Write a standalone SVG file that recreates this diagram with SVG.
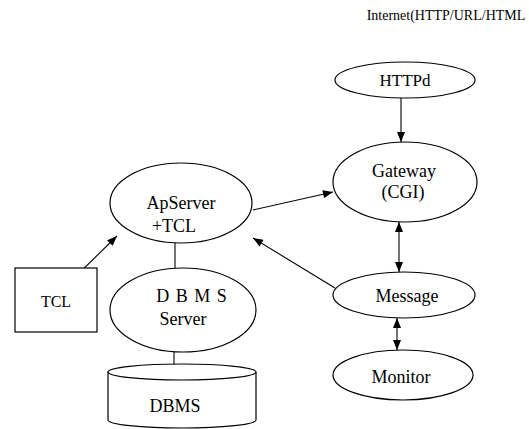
<svg xmlns="http://www.w3.org/2000/svg" width="529" height="429" viewBox="0 0 529 429">
<style>
.n{fill:#fff;stroke:#000;stroke-width:1.2}
.t{font-family:"Liberation Serif","Times New Roman",serif;font-size:18px;fill:#000;text-anchor:middle}
.c{stroke:#000;stroke-width:1.1;fill:none}
</style>
<defs>
<marker id="a" viewBox="0 0 10 8" refX="10" refY="4" markerWidth="11" markerHeight="8" markerUnits="userSpaceOnUse" orient="auto-start-reverse">
<path d="M0,0 L10,4 L0,8 Z" fill="#000"/>
</marker>
</defs>
<rect width="529" height="429" fill="#fff"/>
<text x="446" y="20" class="t" style="font-size:14px">Internet(HTTP/URL/HTML</text>
<g id="connectors">
<line class="c" x1="401" y1="98" x2="401" y2="142" marker-end="url(#a)"/>
<line class="c" x1="253" y1="210" x2="333" y2="192" marker-end="url(#a)"/>
<line class="c" x1="72" y1="280" x2="117" y2="236" marker-end="url(#a)"/>
<line class="c" x1="335" y1="288" x2="253" y2="238" marker-end="url(#a)"/>
<line class="c" x1="399" y1="222" x2="399" y2="272" marker-start="url(#a)" marker-end="url(#a)"/>
<line class="c" x1="397" y1="318" x2="397" y2="350" marker-start="url(#a)" marker-end="url(#a)"/>
<line class="c" x1="175" y1="243" x2="175" y2="268"/>
<line class="c" x1="174" y1="352" x2="174" y2="365"/>
</g>
<g id="httpd">
<ellipse class="n" cx="405" cy="80" rx="70" ry="18"/>
<text class="t" x="405" y="86" style="font-size:17px">HTTPd</text>
</g>
<g id="gateway">
<ellipse class="n" cx="405" cy="182" rx="72" ry="40"/>
<text class="t" x="404" y="177">Gateway</text>
<text class="t" x="403" y="198">(CGI)</text>
</g>
<g id="apserver">
<ellipse class="n" cx="181" cy="203" rx="71" ry="40"/>
<text class="t" x="181" y="209">ApServer</text>
<text class="t" x="174" y="232">+TCL</text>
</g>
<g id="tcl">
<rect class="n" x="15" y="268" width="82" height="64"/>
<text class="t" x="56" y="307" style="font-size:16px">TCL</text>
</g>
<g id="dbms-server">
<ellipse class="n" cx="183" cy="310" rx="73" ry="42"/>
<text class="t" x="192" y="302" style="letter-spacing:1px">D B M S</text>
<text class="t" x="183" y="325">Server</text>
</g>
<g id="dbms">
<path class="n" d="M108,372 V420 A74,8 0 0 0 256,420 V372"/>
<ellipse class="n" cx="182" cy="372" rx="74" ry="8"/>
<text class="t" x="175" y="412">DBMS</text>
</g>
<g id="message">
<ellipse class="n" cx="404" cy="295" rx="71" ry="23"/>
<text class="t" x="407" y="302">Message</text>
</g>
<g id="monitor">
<ellipse class="n" cx="403" cy="375" rx="70" ry="25"/>
<text class="t" x="401" y="383">Monitor</text>
</g>
</svg>
